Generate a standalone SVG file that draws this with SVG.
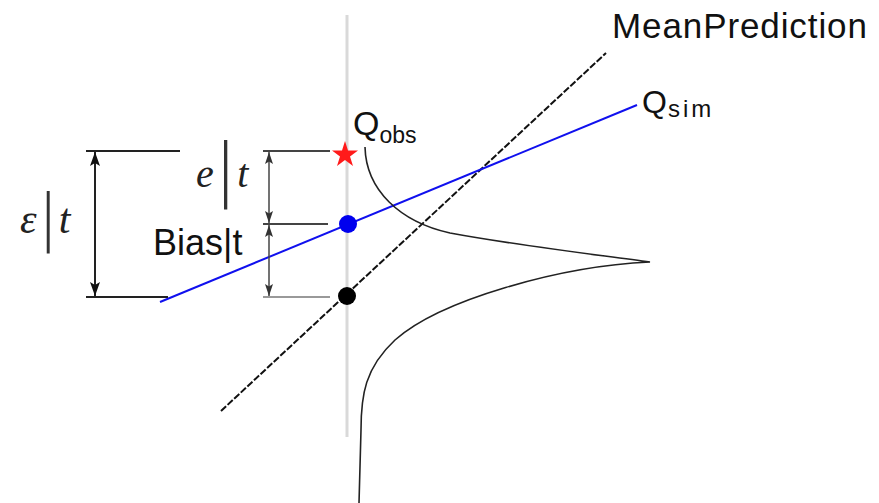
<svg xmlns="http://www.w3.org/2000/svg" width="879" height="503" viewBox="0 0 879 503">
<style>
.sans{font-family:"Liberation Sans",Arial,sans-serif;fill:#111}
.math{font-family:"Liberation Serif","Times New Roman",serif;font-style:italic;fill:#222}
.bar{font-family:"DejaVu Sans",sans-serif;font-style:normal;font-weight:200;fill:#333}
.dim{stroke:#222;stroke-width:2;fill:none}
.dim2{stroke:#444;stroke-width:2;fill:none}
</style>
<defs>
<marker id="ah" viewBox="0 0 14 10" refX="14" refY="5" markerWidth="14" markerHeight="10" markerUnits="userSpaceOnUse" orient="auto-start-reverse">
<path d="M0,0 L14,5 L0,10 L3,5 z" fill="#111"/>
</marker>
<marker id="ah2" viewBox="0 0 12 8" refX="12" refY="4" markerWidth="12" markerHeight="8" markerUnits="userSpaceOnUse" orient="auto-start-reverse">
<path d="M0,0 L12,4 L0,8 L2.5,4 z" fill="#333"/>
</marker>
</defs>

<g id="axis">
<line x1="347" y1="15" x2="347" y2="437" stroke="#d9d9d9" stroke-width="3"/>
</g>

<g id="connectors">
<line id="mean-line" x1="221" y1="411" x2="606" y2="53" stroke="#111" stroke-width="2" stroke-dasharray="7,2"/>
<line id="sim-line" x1="160" y1="302" x2="637" y2="105" stroke="#1010ee" stroke-width="2"/>
<path id="distribution" d="M365,147 C366,190 400,222 450,233 C520,246 600,255 650,262 C560,266 440,300 395,340 C365,368 361,395 361,430 L359,503" fill="none" stroke="#222" stroke-width="1.6"/>
</g>

<g id="dimensions">
<line class="dim" x1="86" y1="151" x2="180" y2="151"/>
<line class="dim" x1="86" y1="297" x2="168" y2="297"/>
<line class="dim" x1="95" y1="152" x2="95" y2="296" marker-start="url(#ah)" marker-end="url(#ah)"/>
<line class="dim2" x1="263" y1="151" x2="330" y2="151"/>
<line class="dim2" x1="263" y1="224" x2="328" y2="224"/>
<line x1="263" y1="297" x2="330" y2="297" stroke="#999" stroke-width="2"/>
<line x1="269" y1="152" x2="269" y2="223" stroke="#444" stroke-width="1.5" marker-start="url(#ah2)" marker-end="url(#ah2)"/>
<line x1="269" y1="225" x2="269" y2="296" stroke="#444" stroke-width="1.5" marker-start="url(#ah2)" marker-end="url(#ah2)"/>
</g>

<g id="q-obs">
<polygon points="345,141 348,150.5 358,150.5 350,156.5 353,166 345,160 337,166 340,156.5 332,150.5 342,150.5" fill="#ff1a1a"/>
<text class="sans" x="353" y="135" font-size="34">Q<tspan dy="8" font-size="23">obs</tspan></text>
</g>

<g id="q-sim-point">
<circle cx="348" cy="224" r="9" fill="#0000ee"/>
<text class="sans" x="642" y="113" font-size="32">Q<tspan dx="1" dy="4" font-size="24" letter-spacing="3">sim</tspan></text>
</g>

<g id="mean-point">
<circle cx="347" cy="296" r="9" fill="#000"/>
<text class="sans" x="612" y="38" font-size="35" letter-spacing="0.9">MeanPrediction</text>
</g>

<g id="label-eps">
<text class="math" x="20" y="233" font-size="42">ε<tspan class="bar" dx="1" baseline-shift="-5" font-size="63">|</tspan>t</text>
</g>

<g id="label-e">
<text class="math" x="196" y="187" font-size="40">e<tspan class="bar" baseline-shift="-6" font-size="70">|</tspan>t</text>
</g>

<g id="label-bias">
<text class="sans" x="153" y="255" font-size="36">Bias|t</text>
</g>
</svg>
